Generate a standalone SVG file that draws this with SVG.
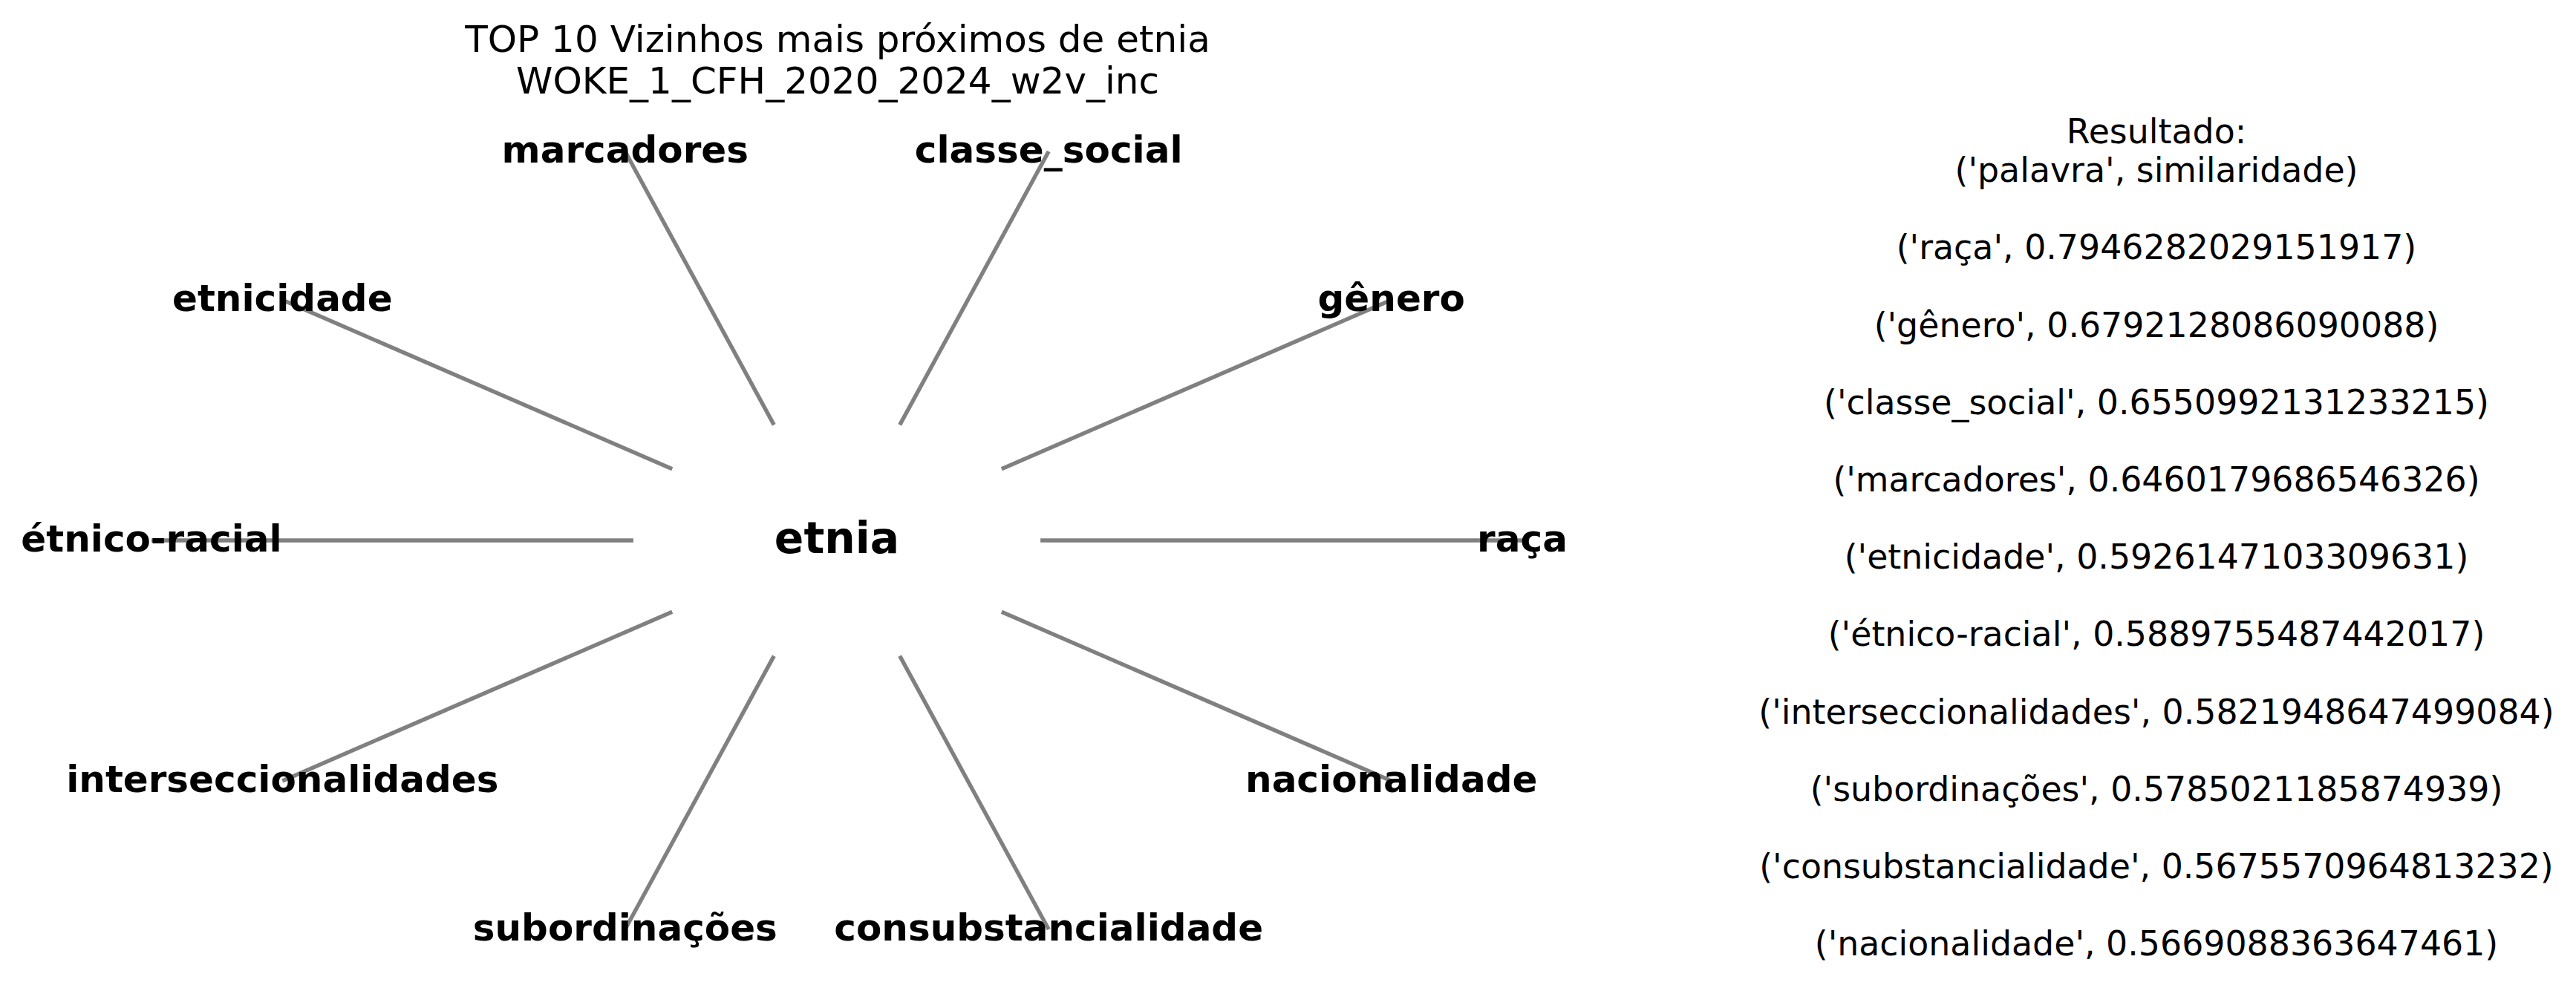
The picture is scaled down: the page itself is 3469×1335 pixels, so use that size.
<svg xmlns="http://www.w3.org/2000/svg" width="3469" height="1335" viewBox="0 0 3469 1335">
<style>
text{font-family:"DejaVu Sans","Liberation Sans",sans-serif;fill:#000;text-anchor:middle}
.lbl{font-size:50px;font-weight:bold}
.ctr{font-size:58.33px;font-weight:bold}
.ttl{font-size:50px}
.res{font-size:45.83px}
#edges line{stroke:#808080;stroke-width:5.4;stroke-linecap:butt}
</style>
<rect width="3469" height="1335" fill="#fff"/>
<g id="title">
<text class="ttl" x="1128" y="70">TOP 10 Vizinhos mais próximos de etnia</text>
<text class="ttl" x="1128" y="126">WOKE_1_CFH_2020_2024_w2v_inc</text>
</g>
<g id="edges">
<line x1="2050" y1="728" x2="1401.1" y2="728"/>
<line x1="1873.7" y1="404.1" x2="1348.8" y2="631.8"/>
<line x1="1412.2" y1="204" x2="1211.7" y2="572.4"/>
<line x1="841.8" y1="204" x2="1042.3" y2="572.4"/>
<line x1="380.3" y1="404.1" x2="905.2" y2="631.8"/>
<line x1="204" y1="728" x2="852.9" y2="728"/>
<line x1="380.3" y1="1051.9" x2="905.2" y2="824.2"/>
<line x1="841.8" y1="1252" x2="1042.3" y2="883.6"/>
<line x1="1412.2" y1="1252" x2="1211.7" y2="883.6"/>
<line x1="1873.7" y1="1051.9" x2="1348.8" y2="824.2"/>
</g>
<g id="node-etnia"><text class="ctr" x="1127" y="745">etnia</text></g>
<g id="node-raca"><text class="lbl" x="2050" y="743">raça</text></g>
<g id="node-genero"><text class="lbl" x="1873.7" y="419">gênero</text></g>
<g id="node-classe_social"><text class="lbl" x="1412.2" y="219">classe_social</text></g>
<g id="node-marcadores"><text class="lbl" x="841.8" y="219">marcadores</text></g>
<g id="node-etnicidade"><text class="lbl" x="380.3" y="419">etnicidade</text></g>
<g id="node-etnico-racial"><text class="lbl" x="204" y="743">étnico-racial</text></g>
<g id="node-interseccionalidades"><text class="lbl" x="380.3" y="1067">interseccionalidades</text></g>
<g id="node-subordinacoes"><text class="lbl" x="841.8" y="1267">subordinações</text></g>
<g id="node-consubstancialidade"><text class="lbl" x="1412.2" y="1267">consubstancialidade</text></g>
<g id="node-nacionalidade"><text class="lbl" x="1873.7" y="1067">nacionalidade</text></g>
<g id="results">
<text class="res" x="2904" y="193">Resultado:</text>
<text class="res" x="2904" y="245.1">('palavra', similaridade)</text>
<text class="res" x="2904" y="349.3">('raça', 0.7946282029151917)</text>
<text class="res" x="2904" y="453.5">('gênero', 0.6792128086090088)</text>
<text class="res" x="2904" y="557.7">('classe_social', 0.6550992131233215)</text>
<text class="res" x="2904" y="661.9">('marcadores', 0.6460179686546326)</text>
<text class="res" x="2904" y="766.1">('etnicidade', 0.5926147103309631)</text>
<text class="res" x="2904" y="870.3">('étnico-racial', 0.5889755487442017)</text>
<text class="res" x="2904" y="974.5">('interseccionalidades', 0.5821948647499084)</text>
<text class="res" x="2904" y="1078.7">('subordinações', 0.5785021185874939)</text>
<text class="res" x="2904" y="1182.9">('consubstancialidade', 0.5675570964813232)</text>
<text class="res" x="2904" y="1287.1">('nacionalidade', 0.5669088363647461)</text>
</g>
</svg>
